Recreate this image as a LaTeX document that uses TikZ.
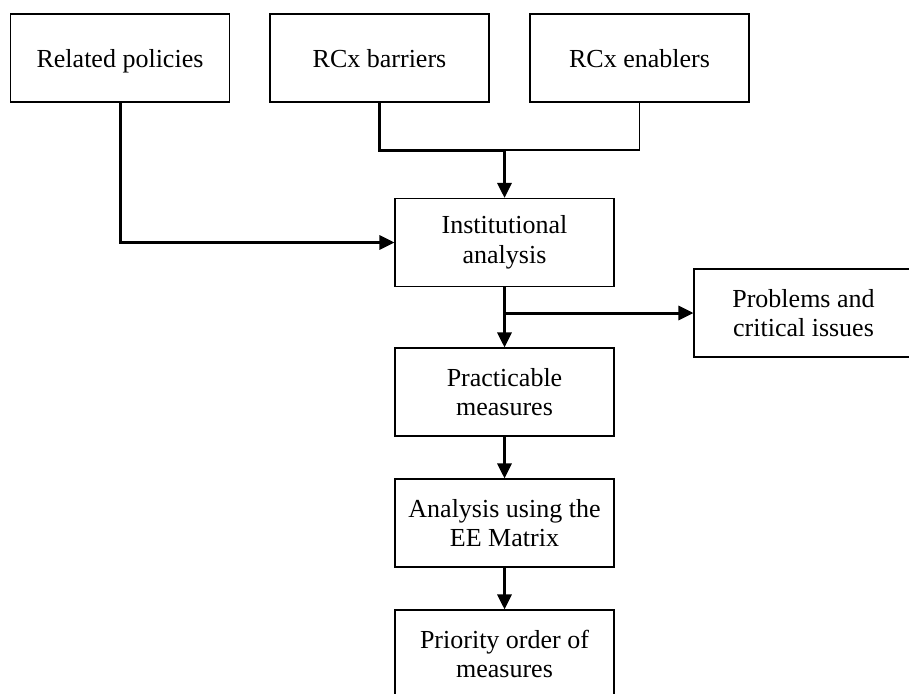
\documentclass[tikz,border=0pt]{standalone}
\usepackage{fontspec}
\setmainfont{Liberation Serif}
\usepackage{tikz}
\usetikzlibrary{positioning, arrows.meta}

\begin{document}
\begin{tikzpicture}[x=1pt, y=1pt, >={Triangle[length=15pt,width=14pt]},
    box/.style={draw, line width=1.1pt, minimum width=219pt, minimum height=88pt,
      align=center, inner sep=2pt, font=\fontsize{26}{29.5}\selectfont},
    top box/.style={box, text depth=0pt},
    flow/.style={->, line width=3pt},
    thin flow/.style={line width=1.2pt}]
      \useasboundingbox (0,0) rectangle (909,-693);

      \node[top box] (pol) at (120,-58) {Related policies};
      \node[top box] (bar) [right of=pol, node distance=259.5pt] {RCx barriers};
      \node[top box] (ena) [right of=bar, node distance=260pt] {RCx enablers};
      \node[box] (inst) at (504.5,-242.5) {Institutional\\analysis};
      \node[box] (prob) at (803.5,-313) {Problems and\\critical issues};
      \node[box] (prac) [below of=inst, node distance=149.5pt] {Practicable\\measures};
      \node[box] (ee) [below of=prac, node distance=131pt] {Analysis using the\\EE Matrix};
      \node[box] (prio) [below of=ee, node distance=131pt] {Priority order of\\measures};

      \coordinate (join) at (inst.north |- 0,-150);
      \coordinate (split) at (inst.south |- 0,-313);

      \draw[flow] (pol.south) |- (inst.west);
      \draw[line width=3pt, line cap=rect] (bar.south) |- (join);
      \draw[thin flow] (ena.south) |- (join);
      \draw[flow] (join) -- (inst.north);
      \draw[flow] (inst.south) -- (prac.north);
      \draw[flow] (split) -- (prob.west);
      \draw[flow] (prac) -- (ee);
      \draw[flow] (ee) -- (prio);
    \end{tikzpicture}
\end{document}
